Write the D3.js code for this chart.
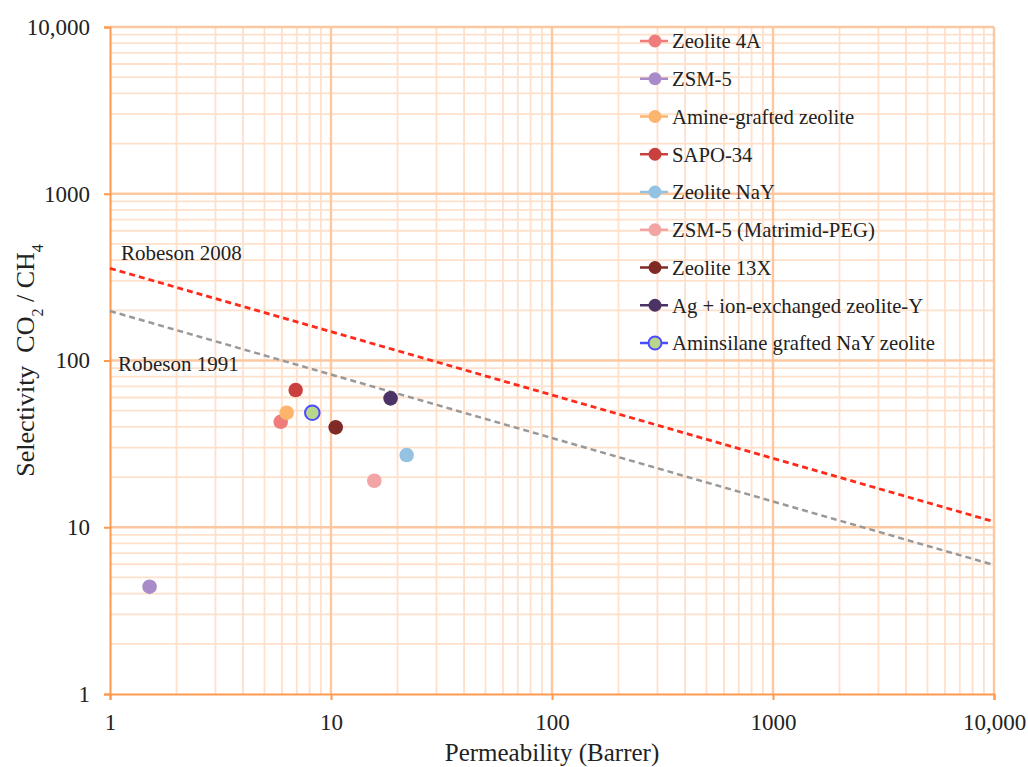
<!DOCTYPE html>
<html>
<head>
<meta charset="utf-8">
<script src="https://cdn.jsdelivr.net/npm/d3@7"></script>
<style>
  body { margin: 0; background: #fff; }
  text { font-family: "Liberation Serif", "DejaVu Serif", serif; fill: #222; }
</style>
</head>
<body>
<svg id="chart"></svg>
<script>
const CHART_WIDTH = 1028;
const CHART_HEIGHT = 767;

const PADDING = {
    top: 27,
    bottom: 73,
    start: 110,
    end: 34
};

// data (permeability in Barrer, selectivity CO2/CH4)
const materials = [
    "Zeolite 4A", "ZSM-5", "Amine-grafted zeolite", "SAPO-34", "Zeolite NaY",
    "ZSM-5 (Matrimid-PEG)", "Zeolite 13X", "Ag + ion-exchanged zeolite-Y",
    "Aminsilane grafted NaY zeolite"
];
const permeability = [5.92, 1.51, 6.3, 6.92, 22.0, 15.7, 10.5, 18.6, 8.23];
const selectivity = [42.9, 4.4, 48.6, 66.5, 27.1, 19.0, 39.7, 59.3, 48.6];
const fillColors = ["#ee7d7b", "#a98bc9", "#fdb46c", "#c9403e", "#93c2e3",
    "#f2a5a5", "#7f2a25", "#4b3366", "#b9d78c"];
const strokeColors = [null, null, null, null, null, null, null, null, "#4b4bff"];

const boundNames = ["Robeson 2008", "Robeson 1991"];
const boundPermeability = [1, 10000];
const bound2008 = [357, 10.8];
const bound1991 = [198, 5.94];

const xTicks = [1, 10, 100, 1000, 10000];
const yTicks = [1, 10, 100, 1000, 10000];
const tickLabels = ["1", "10", "100", "1000", "10,000"];

const svg = d3.select("#chart")
    .attr("width", CHART_WIDTH)
    .attr("height", CHART_HEIGHT);

const xScale = d3.scaleLog()
    .domain([1, 10000])
    .range([PADDING.start, CHART_WIDTH - PADDING.end]);

const yScale = d3.scaleLog()
    .domain([1, 10000])
    .range([CHART_HEIGHT - PADDING.bottom, PADDING.top]);

// minor ticks 2..9 in each decade
let minorTicks = [];
for (let d = 1; d < 10000; d *= 10) {
    for (let m = 2; m <= 9; m++) minorTicks.push(d * m);
}

const grid = svg.append("g").classed("grid", true);
grid.selectAll(".minor-x").data(minorTicks).enter().append("line")
    .attr("x1", d => xScale(d)).attr("x2", d => xScale(d))
    .attr("y1", yScale(1)).attr("y2", yScale(10000))
    .attr("stroke", "#fee0cb").attr("stroke-width", 1.8);
grid.selectAll(".minor-y").data(minorTicks).enter().append("line")
    .attr("y1", d => yScale(d)).attr("y2", d => yScale(d))
    .attr("x1", xScale(1)).attr("x2", xScale(10000))
    .attr("stroke", "#fee0cb").attr("stroke-width", 1.8);
grid.selectAll(".major-x").data(xTicks.slice(1)).enter().append("line")
    .attr("x1", d => xScale(d)).attr("x2", d => xScale(d))
    .attr("y1", yScale(1)).attr("y2", yScale(10000))
    .attr("stroke", "#fdc8a0").attr("stroke-width", 2.4);
grid.selectAll(".major-y").data(yTicks.slice(1)).enter().append("line")
    .attr("y1", d => yScale(d)).attr("y2", d => yScale(d))
    .attr("x1", xScale(1)).attr("x2", xScale(10000))
    .attr("stroke", "#fdc8a0").attr("stroke-width", 2.4);

// axes
const xAxis = d3.axisBottom(xScale)
    .tickValues(xTicks)
    .tickSize(6)
    .tickPadding(14)
    .tickFormat((d, i) => tickLabels[i]);
svg.append("g")
    .classed("x-axis", true)
    .attr("transform", `translate(0, ${yScale(1)})`)
    .call(xAxis);

const yAxis = d3.axisLeft(yScale)
    .tickValues(yTicks)
    .tickSize(6)
    .tickPadding(14)
    .tickFormat((d, i) => tickLabels[i]);
svg.append("g")
    .classed("y-axis", true)
    .attr("transform", `translate(${xScale(1)}, 0)`)
    .call(yAxis);

svg.selectAll(".x-axis path, .y-axis path").attr("stroke", "#fd9a4f").attr("stroke-width", 2);
svg.selectAll(".x-axis line, .y-axis line").attr("stroke", "#fd9a4f").attr("stroke-width", 2);
svg.selectAll(".x-axis text, .y-axis text")
    .style("font-size", "23px")
    .style("font-family", "Liberation Serif")
    .attr("fill", "#222");

// Robeson upper bounds
const line = d3.line()
    .x((d, i) => xScale(boundPermeability[i]))
    .y(d => yScale(d));

svg.append("path")
    .datum(bound1991)
    .attr("d", line)
    .attr("fill", "none")
    .attr("stroke", "#999")
    .attr("stroke-width", 2.5)
    .attr("stroke-dasharray", "6,4");

svg.append("path")
    .datum(bound2008)
    .attr("d", line)
    .attr("fill", "none")
    .attr("stroke", "#ff2a1a")
    .attr("stroke-width", 2.8)
    .attr("stroke-dasharray", "6,4");

svg.append("text")
    .attr("x", 121).attr("y", 260)
    .style("font-size", "21px")
    .text(boundNames[0]);
svg.append("text")
    .attr("x", 118).attr("y", 371)
    .style("font-size", "21px")
    .text(boundNames[1]);

// data points
svg.selectAll(".point")
    .data(materials)
    .enter()
    .append("circle")
    .classed("point", true)
    .attr("cx", (d, i) => xScale(permeability[i]))
    .attr("cy", (d, i) => yScale(selectivity[i]))
    .attr("r", 7.3)
    .attr("fill", (d, i) => fillColors[i])
    .attr("stroke", (d, i) => strokeColors[i] || "none")
    .attr("stroke-width", 2);

// legend
const legend = svg.append("g")
    .classed("legend", true)
    .attr("transform", "translate(640, 41)");

const legendItem = legend.selectAll(".legend-item")
    .data(materials)
    .enter()
    .append("g")
    .classed("legend-item", true)
    .attr("transform", (d, i) => `translate(0, ${i * 37.75})`);

legendItem.append("line")
    .attr("x1", 0).attr("x2", 28)
    .attr("stroke", (d, i) => strokeColors[i] || fillColors[i])
    .attr("stroke-width", 2.5);
legendItem.append("circle")
    .attr("cx", 15)
    .attr("r", 6.5)
    .attr("fill", (d, i) => fillColors[i])
    .attr("stroke", (d, i) => strokeColors[i] || "none")
    .attr("stroke-width", 2);
legendItem.append("text")
    .attr("x", 32)
    .attr("dy", "0.35em")
    .style("font-size", "20.7px")
    .text(d => d);

// axis titles
svg.append("text")
    .attr("x", (xScale(1) + xScale(10000)) / 2)
    .attr("y", 761)
    .style("text-anchor", "middle")
    .style("font-size", "25px")
    .text("Permeability (Barrer)");

const yTitle = svg.append("text")
    .attr("transform", `translate(34, ${(yScale(1) + yScale(10000)) / 2}) rotate(-90)`)
    .style("text-anchor", "middle")
    .style("font-size", "26px")
    .style("white-space", "pre");
yTitle.append("tspan").text("Selectivity  CO");
yTitle.append("tspan").attr("baseline-shift", "sub").style("font-size", "16px").text("2");
yTitle.append("tspan").text(" / CH");
yTitle.append("tspan").attr("baseline-shift", "sub").style("font-size", "16px").text("4");
</script>
</body>
</html>
